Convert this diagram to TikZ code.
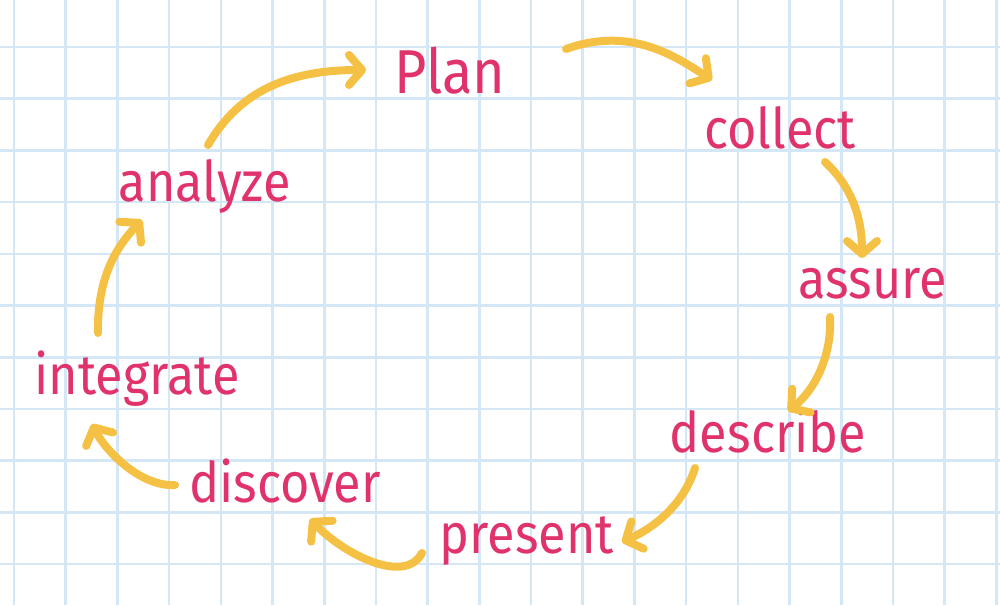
\documentclass[tikz,border=0pt]{standalone}
\usepackage{fontspec}
\setmainfont{Fira Sans}[FakeStretch=0.9]
\usetikzlibrary{arrows.meta}
\definecolor{gridblue}{HTML}{D4E7F7}
\definecolor{ink}{HTML}{E0336B}
\definecolor{marker}{HTML}{F4C145}
\tikzset{
  word/.style={text=ink, inner sep=0pt, anchor=base, font=\fontsize{56}{60}\selectfont},
  flow/.style={draw=marker, line width=8pt, line cap=round, line join=round,
    -{Straight Barb[length=13pt, width=30pt, round]}},
  gridline/.style={draw=gridblue, line width=2.6pt}
}
\begin{document}
\begin{tikzpicture}[x=1pt, y=-1pt]
\useasboundingbox (0,0) rectangle (1000,605);
\fill[white] (0,0) rectangle (1000,605);
% grid
\foreach \k in {0,...,19} {\draw[gridline] ({14+51.7*\k},0) -- ({14+51.7*\k},605);}
\foreach \k in {0,...,10} {\draw[gridline] (0,{47+51.7*\k}) -- (1000,{47+51.7*\k});}
% words
\node[word, font=\fontsize{62}{66}\selectfont] (plan) at (450,93) {Plan};
\node[word] (collect) at (780,148) {collect};
\node[word] (assure) at (873,298) {assure};
\node[word] (describe) at (768,452) {describe};
\node[word] (present) at (527,553) {present};
\node[word] (discover) at (285,502) {discover};
\node[word] (integrate) at (137,394) {integrate};
\node[word] (analyze) at (205,201) {analyze};
% connector ends
\coordinate (analyze-out) at (208,145);
\coordinate (plan-in) at (366,70);
\coordinate (plan-out) at (566,49);
\coordinate (collect-in) at (712,80);
\coordinate (collect-out) at (825,162);
\coordinate (assure-in) at (862,258);
\coordinate (assure-out) at (830,317);
\coordinate (describe-in) at (788,411);
\coordinate (describe-out) at (695,468);
\coordinate (present-in) at (622,542);
\coordinate (present-out) at (422,553);
\coordinate (discover-in) at (310,519);
\coordinate (discover-out) at (175,485);
\coordinate (integrate-in) at (92,424);
\coordinate (integrate-out) at (98,333);
\coordinate (analyze-in) at (142,220);
% connectors
\draw[flow] (analyze-out) .. controls (240,90) and (290,70) .. (plan-in);
\draw[flow] (plan-out) .. controls (630,26) and (675,56) .. (collect-in);
\draw[flow] (collect-out) .. controls (850,185) and (862,215) .. (assure-in);
\draw[flow] (assure-out) .. controls (832,355) and (815,390) .. (describe-in);
\draw[flow] (describe-out) .. controls (685,500) and (660,525) .. (present-in);
\draw[flow] (present-out) .. controls (405,585) and (345,555) .. (discover-in);
\draw[flow] (discover-out) .. controls (140,487) and (105,450) .. (integrate-in);
\draw[flow] (integrate-out) .. controls (97,280) and (115,248) .. (analyze-in);
\end{tikzpicture}
\end{document}
